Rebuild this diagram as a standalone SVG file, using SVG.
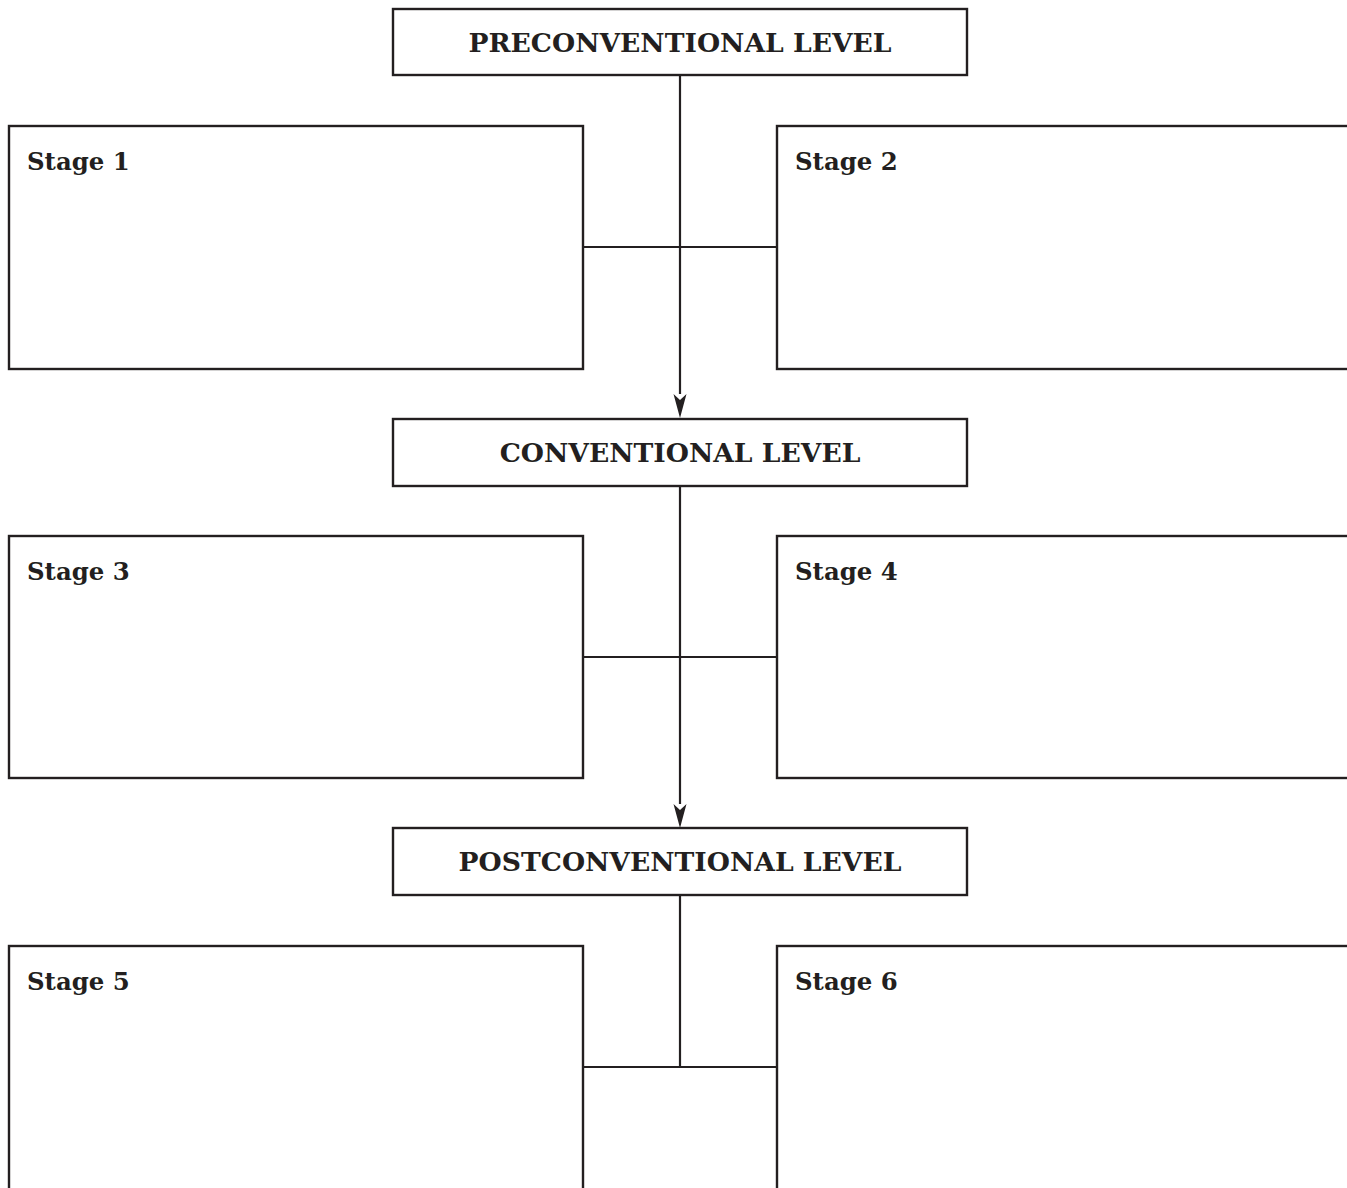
<svg xmlns="http://www.w3.org/2000/svg" width="1347" height="1188" viewBox="0 0 1347 1188">
<style>
.box{fill:#fff;stroke:#231f20;stroke-width:2.4}
.ln{fill:none;stroke:#231f20;stroke-width:2.2}
.lvl{font-family:"DejaVu Serif","Liberation Serif",serif;font-weight:bold;font-size:26.6px;fill:#231f20;text-anchor:middle}
.stg{font-family:"DejaVu Serif","Liberation Serif",serif;font-weight:bold;font-size:24.4px;fill:#231f20}
</style>
<rect width="1347" height="1188" fill="#fff"/>
<g id="connectors">
<line class="ln" x1="680" y1="75" x2="680" y2="394"/>
<path d="M673.5,394 L680,400 L686.5,394 L680,418 Z" fill="#231f20"/>
<line class="ln" x1="583" y1="247" x2="777" y2="247"/>
<line class="ln" x1="680" y1="486" x2="680" y2="804"/>
<path d="M673.5,804 L680,810 L686.5,804 L680,828 Z" fill="#231f20"/>
<line class="ln" x1="583" y1="657" x2="777" y2="657"/>
<line class="ln" x1="680" y1="895" x2="680" y2="1067"/>
<line class="ln" x1="583" y1="1067" x2="777" y2="1067"/>
</g>
<g id="pre"><rect class="box" x="393" y="9" width="574" height="66"/><text class="lvl" x="680" y="52">PRECONVENTIONAL LEVEL</text></g>
<g id="stage1"><rect class="box" x="9" y="126" width="574" height="243"/><text class="stg" x="27" y="170">Stage 1</text></g>
<g id="stage2"><rect class="box" x="777" y="126" width="580" height="243"/><text class="stg" x="795" y="170">Stage 2</text></g>
<g id="conv"><rect class="box" x="393" y="419" width="574" height="67"/><text class="lvl" x="680" y="462">CONVENTIONAL LEVEL</text></g>
<g id="stage3"><rect class="box" x="9" y="536" width="574" height="242"/><text class="stg" x="27" y="580">Stage 3</text></g>
<g id="stage4"><rect class="box" x="777" y="536" width="580" height="242"/><text class="stg" x="795" y="580">Stage 4</text></g>
<g id="post"><rect class="box" x="393" y="828" width="574" height="67"/><text class="lvl" x="680" y="871">POSTCONVENTIONAL LEVEL</text></g>
<g id="stage5"><rect class="box" x="9" y="946" width="574" height="260"/><text class="stg" x="27" y="990">Stage 5</text></g>
<g id="stage6"><rect class="box" x="777" y="946" width="580" height="260"/><text class="stg" x="795" y="990">Stage 6</text></g>
</svg>
